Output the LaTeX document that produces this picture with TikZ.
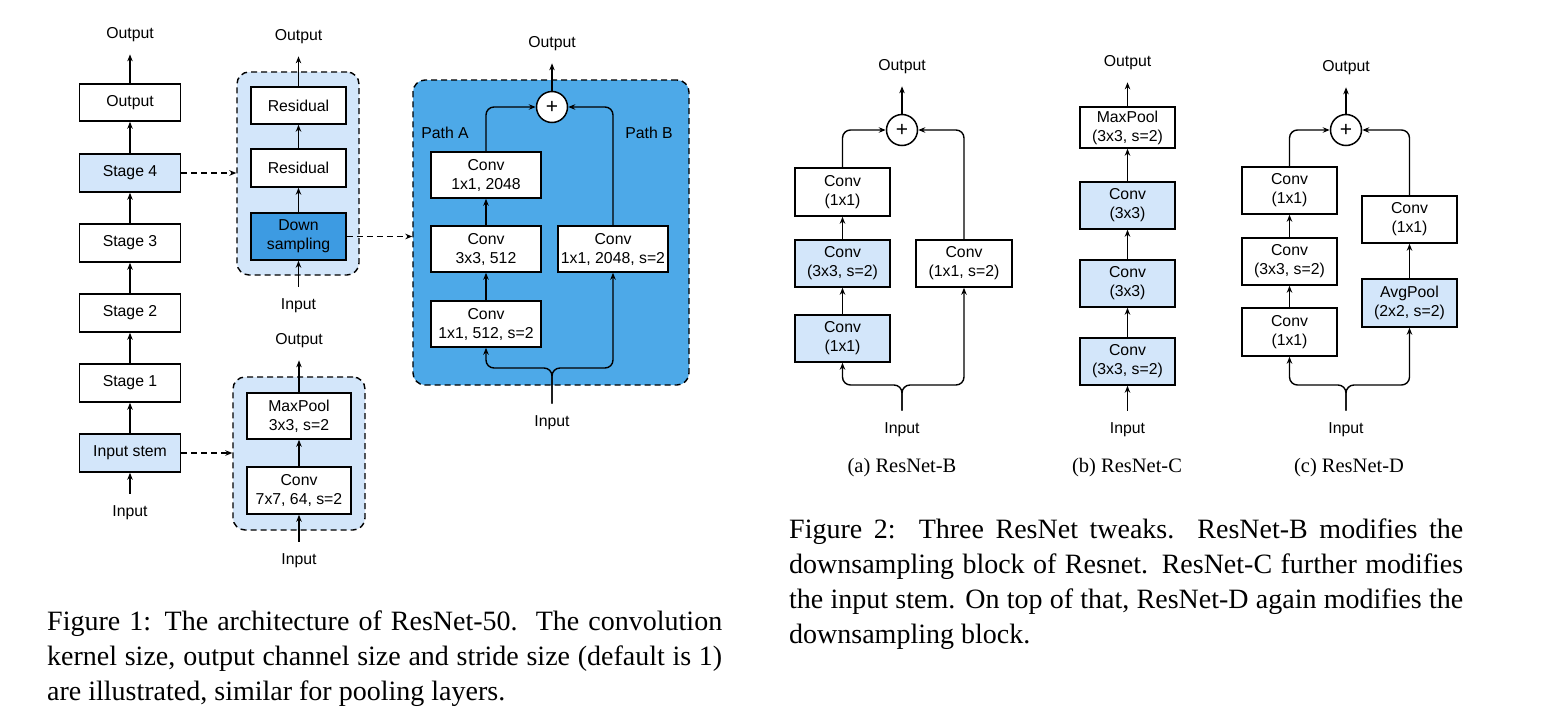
\documentclass[tikz,border=0pt]{standalone}
\usepackage{fontspec}
\setmainfont{Liberation Serif}
\setsansfont{Liberation Sans}
\usetikzlibrary{arrows.meta}
\definecolor{lblue}{HTML}{D3E6FA}
\definecolor{mblue}{HTML}{4DA9E8}
\definecolor{dblue}{HTML}{3D9BE2}
\newcommand{\dfont}{\sffamily\fontsize{15.8}{19}\selectfont}
\newcommand{\pfont}{\sffamily\fontsize{21}{24}\selectfont}
\newcommand{\cfont}{\rmfamily\fontsize{28}{35}\selectfont}
\newcommand{\sfont}{\rmfamily\fontsize{20.5}{24}\selectfont}
\begin{document}
\begin{tikzpicture}[x=1pt,y=-1pt,
  blk/.style={draw, line width=1.5pt, fill=white, align=center, font=\dfont, inner sep=0pt},
  bblk/.style={blk, fill=lblue},
  lbl/.style={font=\dfont, inner xsep=2pt, inner ysep=12pt},
  arr/.style={line width=1.4pt, -{Stealth[length=7pt,width=5.5pt]}},
  darr/.style={arr, dash pattern=on 6pt off 4pt},
  grp/.style={draw, line width=1.4pt, dash pattern=on 6pt off 4pt, rounded corners=12pt, inner sep=0pt},
  plus/.style={draw, circle, line width=1.5pt, fill=white, minimum size=31pt, inner sep=0pt, font=\pfont},
  capn/.style={anchor=base west, inner sep=0pt, font=\cfont},
  subc/.style={font=\sfont, inner sep=0pt}
]
\fill[white] (0,0) rectangle (1561,715);
\useasboundingbox (0,0) rectangle (1561,715);

% ---------- Figure 1: left column ----------
\node[lbl] (lout) at (130,35) {Output};
\node[blk, minimum width=101pt, minimum height=37pt] (bout) at (130,102.5) {Output};
\node[bblk, minimum width=101pt, minimum height=38pt] (s4) at (130,173) {Stage 4};
\node[blk, minimum width=101pt, minimum height=38pt] (s3) at (130,243) {Stage 3};
\node[blk, minimum width=101pt, minimum height=38pt] (s2) at (130,313) {Stage 2};
\node[blk, minimum width=101pt, minimum height=38pt] (s1) at (130,383) {Stage 1};
\node[bblk, minimum width=101pt, minimum height=38pt] (stem) at (130,453) {Input stem};
\node[lbl] (lin) at (130,513) {Input};
\draw[arr] (lin) -- (stem);
\draw[arr] (stem) -- (s1);
\draw[arr] (s1) -- (s2);
\draw[arr] (s2) -- (s3);
\draw[arr] (s3) -- (s4);
\draw[arr] (s4) -- (bout);
\draw[arr] (bout) -- (lout);

% ---------- stage group ----------
\node[grp, fill=lblue, minimum width=122pt, minimum height=203pt] (g1) at (298,173.5) {};
\node[lbl] (g1out) at (298.5,37) {Output};
\node[blk, minimum width=95pt, minimum height=37pt] (res1) at (298.5,105.5) {Residual};
\node[blk, minimum width=95pt, minimum height=38pt] (res2) at (298.5,168) {Residual};
\node[blk, fill=dblue, minimum width=95pt, minimum height=47pt] (down) at (298.5,236.5) {Down\\sampling};
\node[lbl] (g1in) at (298.5,306) {Input};
\draw[arr] (g1in) -- (down);
\draw[arr] (down) -- (res2);
\draw[arr] (res2) -- (res1);
\draw[arr] (res1) -- (g1out);
\draw[darr] (s4.east) -- (s4.east -| g1.west);

% ---------- stem group ----------
\node[grp, fill=lblue, minimum width=132pt, minimum height=153pt] (g2) at (299,453.5) {};
\node[lbl] (g2out) at (299,341) {Output};
\node[blk, minimum width=104pt, minimum height=46pt] (mp) at (299,416) {MaxPool\\3x3, s=2};
\node[blk, minimum width=104pt, minimum height=47pt] (cv7) at (299,490.5) {Conv\\7x7, 64, s=2};
\node[lbl] (g2in) at (299,561) {Input};
\draw[arr] (g2in) -- (cv7);
\draw[arr] (cv7) -- (mp);
\draw[arr] (mp) -- (g2out);
\draw[darr] (stem.east) -- (stem.east -| g2.west);

% ---------- bottleneck block ----------
\node[grp, fill=mblue, minimum width=276pt, minimum height=305pt] (g3) at (551,232.5) {};
\node[lbl] (g3out) at (552,44) {Output};
\node[plus] (p3) at (552,107) {+};
\node[font=\dfont] (pa) at (445,133) {Path A};
\node[font=\dfont] (pb) at (649,133) {Path B};
\node[blk, minimum width=110pt, minimum height=46pt] (c1) at (486,175) {Conv\\1x1, 2048};
\node[blk, minimum width=110pt, minimum height=46pt] (c2) at (486,249) {Conv\\3x3, 512};
\node[blk, minimum width=110pt, minimum height=46pt] (c3) at (486,324) {Conv\\1x1, 512, s=2};
\node[blk, minimum width=110pt, minimum height=46pt] (cb) at (613,249) {Conv\\1x1, 2048, s=2};
\node[lbl] (g3in) at (552,423) {Input};
\coordinate (br3) at (552,368);
\draw[arr, rounded corners=8pt] (g3in.north) -- (br3) -| (c3.south);
\draw[arr, rounded corners=8pt] (g3in.north) -- (br3) -| (cb.south);
\draw[arr] (c3) -- (c2);
\draw[arr] (c2) -- (c1);
\draw[arr, rounded corners=8pt] (c1.north) |- (p3.west);
\draw[arr, rounded corners=8pt] (cb.north) |- (p3.east);
\draw[arr] (p3) -- (g3out);
\draw[darr] (down.east) -- (down.east -| g3.west);

% ---------- ResNet-B ----------
\node[lbl] (bo) at (902,67) {Output};
\node[plus] (pB) at (902,130) {+};
\node[blk, minimum width=95pt, minimum height=48pt] (b1) at (842.5,192) {Conv\\(1x1)};
\node[bblk, minimum width=95pt, minimum height=47pt] (b2) at (842.5,263.5) {Conv\\(3x3, s=2)};
\node[bblk, minimum width=95pt, minimum height=47pt] (b3) at (842.5,338.5) {Conv\\(1x1)};
\node[blk, minimum width=96pt, minimum height=47pt] (bR) at (964,263.5) {Conv\\(1x1, s=2)};
\node[lbl] (bi) at (902,430) {Input};
\coordinate (brB) at (902,385);
\draw[arr, rounded corners=8pt] (bi.north) -- (brB) -| (b3.south);
\draw[arr, rounded corners=8pt] (bi.north) -- (brB) -| (bR.south);
\draw[arr] (b3) -- (b2);
\draw[arr] (b2) -- (b1);
\draw[arr, rounded corners=8pt] (b1.north) |- (pB.west);
\draw[arr, rounded corners=8pt] (bR.north) |- (pB.east);
\draw[arr] (pB) -- (bo);
\node[subc] (capa) at (902,468) {(a) ResNet-B};

% ---------- ResNet-C ----------
\node[lbl] (co) at (1127.5,63) {Output};
\node[blk, minimum width=95pt, minimum height=41pt] (cmp) at (1127.5,127.5) {MaxPool\\(3x3, s=2)};
\node[bblk, minimum width=95pt, minimum height=47pt] (cc1) at (1127.5,205.5) {Conv\\(3x3)};
\node[bblk, minimum width=95pt, minimum height=47pt] (cc2) at (1127.5,283.5) {Conv\\(3x3)};
\node[bblk, minimum width=95pt, minimum height=47pt] (cc3) at (1127.5,361.5) {Conv\\(3x3, s=2)};
\node[lbl] (ci) at (1127.5,430) {Input};
\draw[arr] (ci) -- (cc3);
\draw[arr] (cc3) -- (cc2);
\draw[arr] (cc2) -- (cc1);
\draw[arr] (cc1) -- (cmp);
\draw[arr] (cmp) -- (co);
\node[subc] (capb) at (1127,468) {(b) ResNet-C};

% ---------- ResNet-D ----------
\node[lbl] (dout) at (1346,68) {Output};
\node[plus] (pD) at (1346,130) {+};
\node[blk, minimum width=95pt, minimum height=47pt] (d1) at (1289.5,190.5) {Conv\\(1x1)};
\node[blk, minimum width=95pt, minimum height=47pt] (d2) at (1289.5,261.5) {Conv\\(3x3, s=2)};
\node[blk, minimum width=95pt, minimum height=48pt] (d3) at (1289.5,332) {Conv\\(1x1)};
\node[blk, minimum width=95pt, minimum height=47pt] (dr1) at (1409.5,219.5) {Conv\\(1x1)};
\node[bblk, minimum width=95pt, minimum height=48pt] (dr2) at (1409.5,303) {AvgPool\\(2x2, s=2)};
\node[lbl] (din) at (1346,430) {Input};
\coordinate (brD) at (1346,385);
\draw[arr, rounded corners=8pt] (din.north) -- (brD) -| (d3.south);
\draw[arr, rounded corners=8pt] (din.north) -- (brD) -| (dr2.south);
\draw[arr] (d3) -- (d2);
\draw[arr] (d2) -- (d1);
\draw[arr] (dr2) -- (dr1);
\draw[arr, rounded corners=8pt] (d1.north) |- (pD.west);
\draw[arr, rounded corners=8pt] (dr1.north) |- (pD.east);
\draw[arr] (pD) -- (dout);
\node[subc] (capc) at (1349,468) {(c) ResNet-D};

% ---------- captions ----------
\node[capn] (f1a) at (47,630) {\makebox[675pt][s]{Figure 1: The architecture of ResNet-50.\ \ The convolution}};
\node[capn] (f1b) at (47,665) {\makebox[675pt][s]{kernel size, output channel size and stride size (default is 1)}};
\node[capn] (f1c) at (47,700) {are illustrated, similar for pooling layers.};

\node[capn] (f2a) at (789,538) {\makebox[674pt][s]{Figure 2:\ \ Three ResNet tweaks.\ \ ResNet-B modifies the}};
\node[capn] (f2b) at (789,573) {\makebox[674pt][s]{downsampling block of Resnet. ResNet-C further modifies}};
\node[capn] (f2c) at (789,608) {\makebox[674pt][s]{the input stem. On top of that, ResNet-D again modifies the}};
\node[capn] (f2d) at (789,643) {downsampling block.};
\end{tikzpicture}
\end{document}
